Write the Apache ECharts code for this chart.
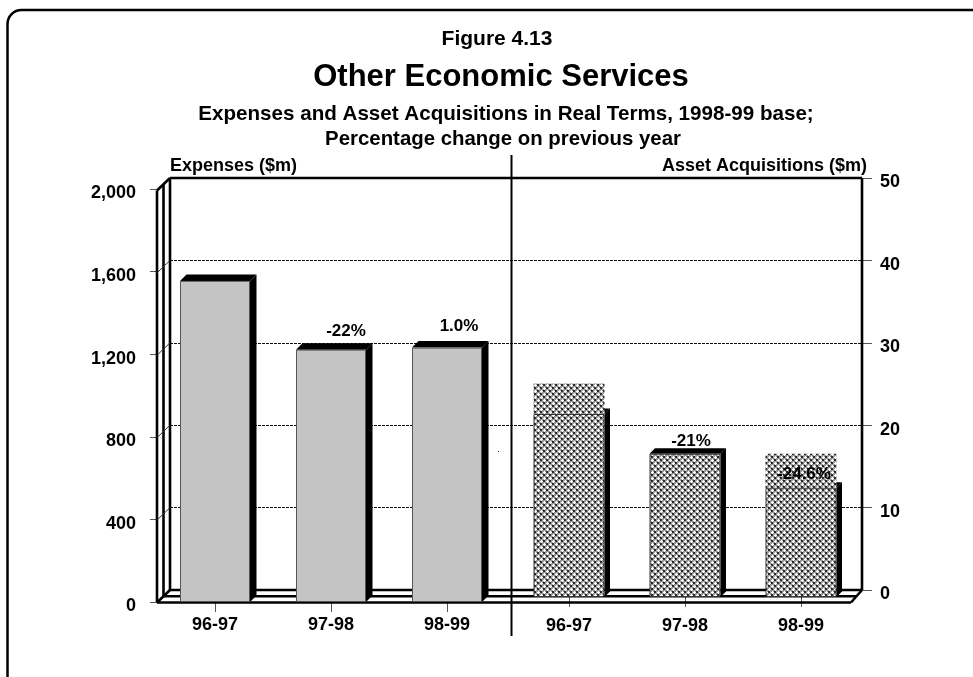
<!DOCTYPE html>
<html>
<head>
<meta charset="utf-8">
<style>
    html, body { margin: 0; padding: 0; background: #fff; }
    #main { width: 973px; height: 677px; }
</style>
<script src="https://cdn.jsdelivr.net/npm/echarts@6/dist/echarts.min.js"></script>
</head>
<body>
<div id="main"></div>
<script>
// 数据
const years = ['96-97', '97-98', '98-99']
const expenses = [1555, 1222, 1232]
const expenseChange = ['', '-22%', '1.0%']
const assets = [22.1, 17.3, 13.2]
const assetPatch = [3.7, 0, 4.1]
const assetChange = ['', '-21%', '-24.6%']
const assetTicks = [0, 10, 20, 30, 40, 50]

const font = '"Liberation Sans", Arial, sans-serif'

// 网纹填充
function hatch() {
    const c = document.createElement('canvas')
    c.width = 6
    c.height = 6
    const g = c.getContext('2d')
    g.fillStyle = '#9a9a9a'
    g.fillRect(0, 0, 6, 6)
    g.fillStyle = '#ffffff'
    g.fillRect(0, 1, 3, 1)
    g.fillRect(1, 0, 1, 3)
    g.fillRect(3, 4, 3, 1)
    g.fillRect(4, 3, 1, 3)
    g.fillStyle = '#2a2a2a'
    g.fillRect(3, 0, 2, 2)
    g.fillRect(0, 3, 2, 2)
    return { image: c, repeat: 'repeat' }
}

// 柱子的顶面和侧面
function extrude(depth, barWidth) {
    return function (params, api) {
        const top = api.coord([api.value(0), api.value(1)])
        const base = api.coord([api.value(0), 0])
        const l = top[0] - barWidth / 2
        const r = top[0] + barWidth / 2
        return {
            type: 'group',
            children: [
                {
                    type: 'polygon',
                    shape: { points: [[l, top[1]], [l + depth, top[1] - depth], [r + depth, top[1] - depth], [r, top[1]]] },
                    style: { fill: '#000' }
                },
                {
                    type: 'polygon',
                    shape: { points: [[r, top[1]], [r + depth, top[1] - depth], [r + depth, base[1] - depth], [r, base[1]]] },
                    style: { fill: '#000' }
                }
            ]
        }
    }
}

// 三维框架：后墙、左墙、地板
function frame(params, api) {
    const b = params.coordSys
    const left = b.x, right = b.x + b.width, top = b.y, floor = b.y + b.height
    const dxL = 13, dxR = 11, dy = 12.5
    const solid = { stroke: '#000', lineWidth: 2.6, fill: null }
    const line = (x1, y1, x2, y2, style) => ({
        type: 'line',
        shape: { x1, y1, x2, y2 },
        style: style || solid
    })
    const children = [
        line(left, top, right, top),
        line(right, top, right, floor),
        line(left, top, left, floor),
        line(left - dxL / 2, top + dy / 2, left - dxL / 2, floor + dy / 2),
        line(left - dxL, top + dy, left - dxL, floor + dy),
        line(left, floor, right, floor),
        line(left - dxL / 2, floor + dy / 2, right - dxR / 2, floor + dy / 2),
        line(left - dxL, floor + dy, right - dxR, floor + dy),
        line(left - dxL, top + dy, left, top),
        line(left - dxL, floor + dy, left, floor),
        line(right - dxR, floor + dy, right, floor)
    ]
    assetTicks.slice(1, -1).forEach(v => {
        const y = api.coord([0, v])[1]
        children.push(line(left - dxL, y + dy, left, y, { stroke: '#333', lineWidth: 1 }))
    })
    return { type: 'group', children }
}

const labelOffsets = {
    left: [[0, 0], [15, -5], [12, -8]],
    right: [[0, 0], [6, 1], [3, 0]]
}

function barData(values, names, offsets) {
    return values.map((v, i) => ({
        value: v,
        label: { show: !!names[i], formatter: names[i], position: 'top', offset: offsets[i] }
    }))
}

const axisText = { fontFamily: font, fontWeight: 'bold', fontSize: 18, color: '#000' }
const tickGray = { show: true, lineStyle: { color: '#555', width: 1 } }
const tickRich = { t: { ...axisText, padding: [9, 0, 0, 0] } }
const titleText = size => ({ fontFamily: font, fontSize: size, fontWeight: 'bold', color: '#000' })

const myChart = echarts.init(document.getElementById('main'))
const option = {
    animation: false,
    backgroundColor: '#fff',
    textStyle: { fontFamily: font },
    title: [
        { text: 'Figure 4.13', left: 492, top: 24, textAlign: 'center', textStyle: titleText(21) },
        { text: 'Other Economic Services', left: 496, top: 57, textAlign: 'center', textStyle: titleText(31) },
        { text: 'Expenses and Asset Acquisitions in Real Terms, 1998-99 base;', left: 501, top: 99, textAlign: 'center', textStyle: titleText(20.6) },
        { text: 'Percentage change on previous year', left: 498, top: 124, textAlign: 'center', textStyle: titleText(20.4) },
        { text: 'Expenses ($m)', left: 165, top: 152, textStyle: titleText(18) },
        { text: 'Asset Acquisitions ($m)', left: 657, top: 152, textStyle: titleText(18) }
    ],
    grid: [
        { left: 170, width: 692, top: 178, height: 412 },   // 后墙
        { left: 157, width: 348, top: 189, height: 413 },   // 左半部分
        { left: 511, width: 348, top: 183, height: 414 }    // 右半部分
    ],
    xAxis: [
        { gridIndex: 0, type: 'category', data: [''], show: false },
        {
            gridIndex: 1, type: 'category', data: years,
            axisLine: { show: false },
            axisTick: { ...tickGray, alignWithLabel: true, length: 10 },
            axisLabel: { ...axisText, margin: 14 }
        },
        {
            gridIndex: 2, type: 'category', data: years, offset: 6,
            axisLine: { show: false },
            axisTick: { ...tickGray, alignWithLabel: true, length: 10 },
            axisLabel: { ...axisText, margin: 14 }
        }
    ],
    yAxis: [
        {
            gridIndex: 0, type: 'value', position: 'right', min: 0, max: 50, interval: 10,
            axisLine: { show: false },
            axisTick: { ...tickGray, length: 10 },
            axisLabel: { ...axisText, margin: 18, formatter: v => `{t|${v}}`, rich: tickRich },
            splitLine: { show: true, lineStyle: { color: '#111', width: 1, type: [3, 1] } }
        },
        {
            gridIndex: 1, type: 'value', min: 0, max: 2000, interval: 400,
            axisLine: { show: false },
            axisTick: { ...tickGray, length: 7 },
            axisLabel: { ...axisText, margin: 21, formatter: v => `{t|${v.toLocaleString('en-US')}}`, rich: tickRich },
            splitLine: { show: false }
        },
        {
            gridIndex: 2, type: 'value', min: 0, max: 50, interval: 10,
            show: false, splitLine: { show: false }
        }
    ],
    series: [
        {
            type: 'custom', xAxisIndex: 0, yAxisIndex: 0, z: 1, silent: true,
            renderItem: frame, data: [[0, 0]], encode: { x: 0, y: 1 }
        },
        {
            type: 'custom', xAxisIndex: 1, yAxisIndex: 1, z: 2, silent: true,
            renderItem: extrude(6.5, 70),
            data: expenses.map((v, i) => [i, v]), encode: { x: 0, y: 1 }
        },
        {
            type: 'custom', xAxisIndex: 2, yAxisIndex: 2, z: 2, silent: true,
            renderItem: extrude(5.5, 71),
            data: assets.map((v, i) => [i, v]), encode: { x: 0, y: 1 }
        },
        {
            type: 'bar', name: 'Expenses', xAxisIndex: 1, yAxisIndex: 1, z: 3, barWidth: 70,
            itemStyle: { color: '#c4c4c4', borderColor: '#555', borderWidth: 1 },
            label: { ...axisText, fontSize: 17 },
            data: barData(expenses, expenseChange, labelOffsets.left)
        },
        {
            type: 'bar', name: 'Asset Acquisitions', xAxisIndex: 2, yAxisIndex: 2, z: 3, barWidth: 71, stack: 'assets',
            itemStyle: { color: hatch(), borderColor: '#333', borderWidth: 1 },
            label: { ...axisText, fontSize: 17 },
            data: barData(assets, assetChange, labelOffsets.right)
        },
        {
            type: 'bar', name: 'Patch', xAxisIndex: 2, yAxisIndex: 2, z: 3, barWidth: 71, stack: 'assets',
            itemStyle: { color: hatch() },
            data: assetPatch
        }
    ],
    graphic: [
        // 外框，右边和下边超出画面
        { type: 'rect', shape: { x: 7.5, y: 10, width: 1000, height: 680, r: 14 }, style: { fill: null, stroke: '#000', lineWidth: 2.5 }, z: 10, silent: true },
        // 中间分隔线
        { type: 'line', shape: { x1: 511.5, y1: 155, x2: 511.5, y2: 636 }, style: { stroke: '#000', lineWidth: 2 }, z: 10, silent: true },
        // 原图里的小黑点
        { type: 'rect', shape: { x: 498, y: 451, width: 1, height: 1 }, style: { fill: '#333' }, z: 10, silent: true }
    ]
}
myChart.setOption(option)
</script>
</body>
</html>
